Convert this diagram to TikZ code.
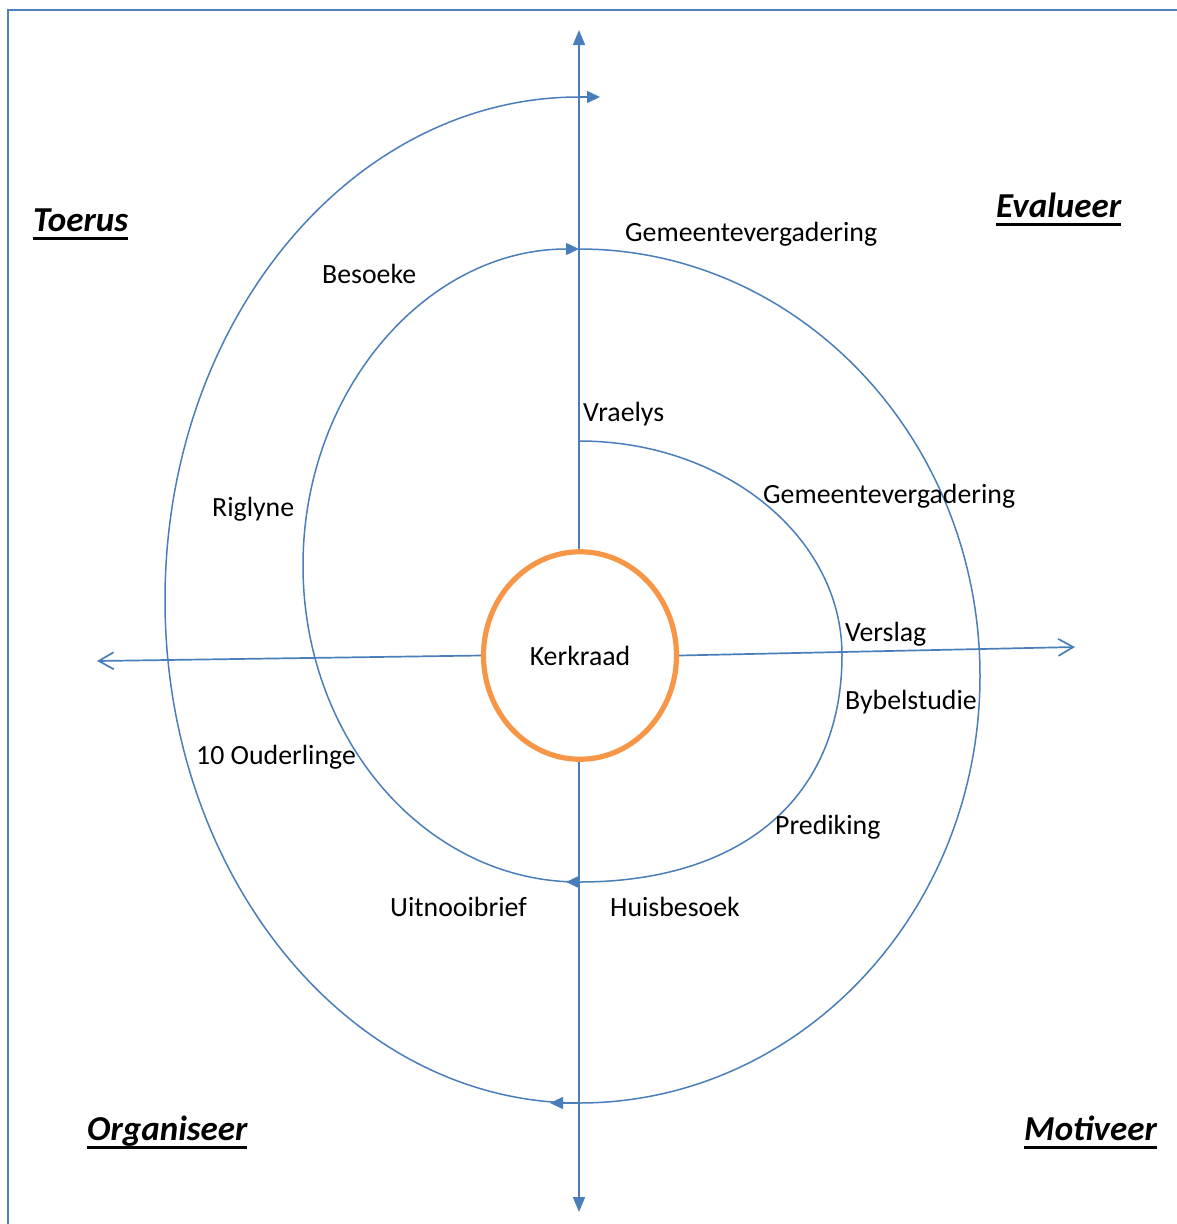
\documentclass[tikz,border=0pt]{standalone}
\usepackage{fontspec}
\setmainfont{Carlito}
\usetikzlibrary{arrows.meta,shapes.geometric}
\definecolor{lineblue}{HTML}{4A7EBB}
\definecolor{frameblue}{HTML}{4F81BD}
\definecolor{ringorange}{HTML}{F79646}
\newcommand\headul[1]{\setbox0\hbox{#1}\rlap{\rule[-8.5pt]{\wd0}{3pt}}\box0}
\begin{document}
\begin{tikzpicture}[x=1pt,y=-1pt,
  lbl/.style={anchor=base west, inner sep=0, font=\fontsize{27.8}{30}\selectfont},
  head/.style={anchor=base west, inner sep=0, font=\fontsize{35}{40}\selectfont\bfseries\itshape},
  spiral/.style={draw=lineblue, line width=1.5},
  spiraltip/.style={spiral, -{Triangle[length=13pt,width=12pt]}},
  axisfill/.style={draw=lineblue, line width=1.7, -{Triangle[length=15pt,width=12pt]}},
  axisopen/.style={draw=lineblue, line width=1.7, -{Straight Barb[length=15pt,width=17pt]}},
  ring/.style={ellipse, draw=ringorange, line width=5.2, minimum width=193, minimum height=207.5, inner sep=0, font=\fontsize{27.8}{30}\selectfont}
 ]
\useasboundingbox (0,0) rectangle (1177,1224);
\fill[white] (0,0) rectangle (1177,1224);
% frame
\coordinate (fb) at (8,1224);
\coordinate (fc) at (8,10);
\coordinate (fr) at (1177,10);
\draw[frameblue, line width=2] (fb) -- (fc) -- (fr);

% centre
\node[ring] (kerk) at (580,655.5) {Kerkraad};

% axes
\coordinate (topEnd) at (579,30);
\coordinate (botEnd) at (579,1212);
\coordinate (leftEnd) at (97,661);
\coordinate (rightEnd) at (1075,647);
\draw[axisfill] (kerk.north -| topEnd) -- (topEnd);
\draw[axisfill] (kerk.south -| botEnd) -- (botEnd);
\draw[axisopen] (kerk.west) -- (leftEnd);
\draw[axisopen] (kerk.east) -- (rightEnd);

% spiral, inner right half
\coordinate (a0) at (579,441);
\coordinate (a1) at (842,655);
\coordinate (a2) at (579,882);
\coordinate (a2t) at (566,882);
\draw[spiral] (a0) .. controls (724.3,441) and (842,536.8) .. (a1)
   .. controls (842,797) and (743,882) .. (a2);
\draw[spiraltip] (a2) -- (a2t);
% left half
\coordinate (b1) at (303,565.5);
\coordinate (b2) at (579,249);
\draw[spiraltip] (a2) .. controls (426.6,882) and (303,740.3) .. (b1)
   .. controls (303,390.7) and (426.6,249) .. (b2);
% outer right half
\coordinate (c1) at (980,676);
\coordinate (c2) at (579,1103);
\coordinate (c2t) at (550,1103);
\draw[spiral] (b2) .. controls (800.5,249) and (980,440.2) .. (c1)
   .. controls (980,911.8) and (800.5,1103) .. (c2);
\draw[spiraltip] (c2) -- (c2t);
% outermost left half
\coordinate (d1) at (165,600);
\coordinate (d2) at (579,97);
\coordinate (d2t) at (600,97);
\draw[spiral] (c2) .. controls (350.3,1103) and (165,877.8) .. (d1)
   .. controls (165,322.2) and (350.3,97) .. (d2);
\draw[spiraltip] (d2) -- (d2t);

% labels
\node[lbl] (l1) at (625,241) {Gemeentevergadering};
\node[lbl] (l2) at (322,283) {Besoeke};
\node[lbl] (l3) at (583,421) {Vraelys};
\node[lbl] (l4) at (763,503) {Gemeentevergadering};
\node[lbl] (l5) at (212,516) {Riglyne};
\node[lbl] (l6) at (845,641) {Verslag};
\node[lbl] (l7) at (845,709) {Bybelstudie};
\node[lbl] (l8) at (196,764) {10 Ouderlinge};
\node[lbl] (l9) at (775,834) {Prediking};
\node[lbl] (l10) at (390,916) {Uitnooibrief};
\node[lbl] (l11) at (610,916) {Huisbesoek};

% headings
\node[head] (h1) at (33,231) {\headul{Toerus}};
\node[head] (h2) at (996,217) {\headul{Evalueer}};
\node[head] (h3) at (87,1140) {\headul{Organiseer}};
\node[head] (h4) at (1024,1140) {\headul{Motiveer}};
\end{tikzpicture}
\end{document}
